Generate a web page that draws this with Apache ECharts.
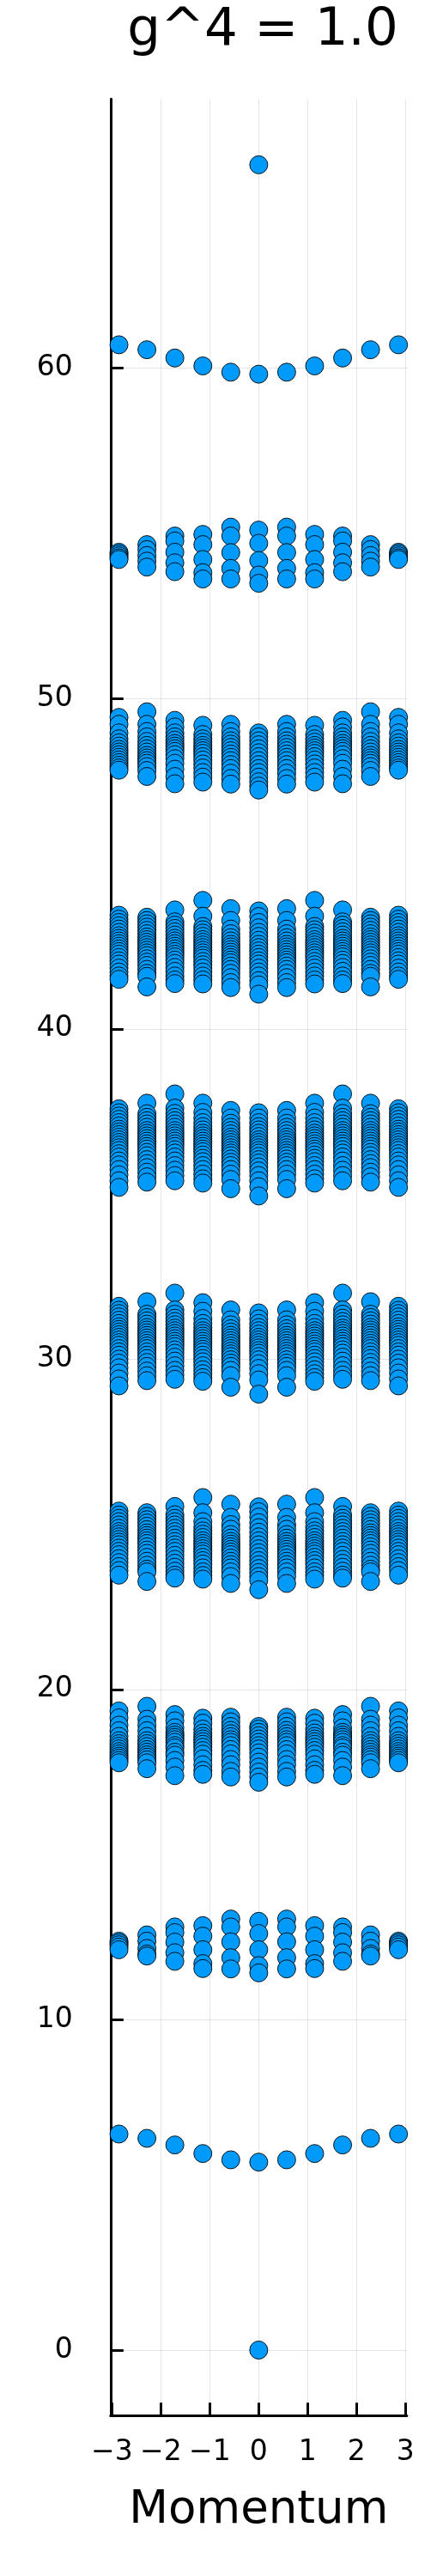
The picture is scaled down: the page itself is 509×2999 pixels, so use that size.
<!DOCTYPE html>
<html>
<head>
<meta charset="utf-8">
<script src="https://cdn.jsdelivr.net/npm/echarts@6/dist/echarts.min.js"></script>
<style>
  html, body { margin: 0; padding: 0; background: #fff; }
  #chart { width: 509px; height: 2999px; }
</style>
</head>
<body>
<div id="chart"></div>
<script>
// ---- data ----
const titleText = 'g^4 = 1.0';
const xName = 'Momentum';
const momenta = [-2.856, -2.285, -1.714, -1.142, -0.571, 0, 0.571, 1.142, 1.714, 2.285, 2.856];
const xTicks = [-3, -2, -1, 0, 1, 2, 3];
const xTickLabels = ['\u22123', '\u22122', '\u22121', '0', '1', '2', '3'];
const yTicks = [0, 10, 20, 30, 40, 50, 60];
const yTickLabels = ['0', '10', '20', '30', '40', '50', '60'];

// single levels at momentum 0
const groundLevel = 0;
const topLevel = 66.16;

// one level per momentum
const band6 = [6.54, 6.41, 6.21, 5.95, 5.76, 5.69, 5.76, 5.95, 6.21, 6.41, 6.54];
const band60 = [60.71, 60.56, 60.31, 60.07, 59.88, 59.82, 59.88, 60.07, 60.31, 60.56, 60.71];

// band near 12 (columns k0..k5, mirrored)
const b12c0 = [12.38, 12.33, 12.27, 12.20, 12.12];
const b12c1 = [12.57, 12.38, 12.16, 11.99, 11.93];
const b12c2 = [12.81, 12.64, 12.35, 12.03, 11.77];
const b12c3 = [12.85, 12.53, 12.12, 11.70, 11.55];
const b12c4 = [13.05, 12.81, 12.36, 11.88, 11.54];
const b12c5 = [12.98, 12.61, 12.12, 11.64, 11.42];
const band12 = [b12c0, b12c1, b12c2, b12c3, b12c4, b12c5, b12c4, b12c3, b12c2, b12c1, b12c0];

// band near 18
const b18c0 = [19.35, 19.14, 18.92, 18.75, 18.58, 18.45, 18.36, 18.28, 18.20, 18.12, 18.05, 17.98, 17.92, 17.85, 17.78];
const b18c1 = [19.49, 19.10, 18.92, 18.75, 18.58, 18.45, 18.36, 18.27, 18.18, 18.10, 18.02, 17.95, 17.87, 17.78, 17.60];
const b18c2 = [19.24, 19.05, 18.84, 18.70, 18.62, 18.55, 18.48, 18.40, 18.30, 18.23, 18.10, 18.01, 17.85, 17.65, 17.39];
const b18c3 = [19.13, 18.98, 18.80, 18.68, 18.58, 18.50, 18.42, 18.34, 18.25, 18.15, 18.04, 17.90, 17.72, 17.55, 17.43];
const b18c4 = [19.16, 19.02, 18.88, 18.76, 18.66, 18.57, 18.48, 18.40, 18.30, 18.18, 18.05, 17.88, 17.72, 17.52, 17.35];
const b18c5 = [18.88, 18.80, 18.70, 18.60, 18.50, 18.40, 18.30, 18.20, 18.08, 17.95, 17.80, 17.65, 17.50, 17.35, 17.19];
const band18 = [b18c0, b18c1, b18c2, b18c3, b18c4, b18c5, b18c4, b18c3, b18c2, b18c1, b18c0];

// band near 24
const b24c0 = [25.40, 25.28, 25.18, 25.08, 24.98, 24.88, 24.78, 24.70, 24.62, 24.54, 24.46, 24.38, 24.28, 24.18, 24.08, 23.96, 23.84, 23.72, 23.60, 23.46];
const b24c1 = [25.35, 25.24, 25.14, 25.04, 24.94, 24.84, 24.74, 24.66, 24.58, 24.50, 24.42, 24.32, 24.22, 24.12, 24.00, 23.88, 23.76, 23.64, 23.56, 23.27];
const b24c2 = [25.54, 25.29, 25.18, 25.08, 24.98, 24.88, 24.78, 24.68, 24.58, 24.48, 24.38, 24.28, 24.18, 24.06, 23.94, 23.82, 23.70, 23.58, 23.46, 23.37];
const b24c3 = [25.81, 25.35, 25.08, 24.92, 24.80, 24.70, 24.60, 24.50, 24.42, 24.34, 24.26, 24.18, 24.10, 24.00, 23.90, 23.80, 23.68, 23.56, 23.45, 23.34];
const b24c4 = [25.61, 25.21, 24.99, 24.85, 24.69, 24.58, 24.48, 24.40, 24.32, 24.24, 24.16, 24.08, 23.98, 23.88, 23.78, 23.68, 23.56, 23.42, 23.21];
const b24c5 = [25.53, 25.38, 25.22, 25.05, 24.90, 24.76, 24.62, 24.50, 24.38, 24.26, 24.14, 24.02, 23.90, 23.78, 23.66, 23.54, 23.42, 23.30, 23.02];
const band24 = [b24c0, b24c1, b24c2, b24c3, b24c4, b24c5, b24c4, b24c3, b24c2, b24c1, b24c0];

// band near 30
const b30c0 = [31.60, 31.48, 31.38, 31.28, 31.18, 31.08, 30.98, 30.90, 30.82, 30.74, 30.66, 30.58, 30.50, 30.42, 30.32, 30.22, 30.12, 30.00, 29.88, 29.74, 29.58, 29.40, 29.19];
const b30c1 = [31.74, 31.36, 31.26, 31.16, 31.06, 30.96, 30.88, 30.80, 30.72, 30.64, 30.56, 30.48, 30.40, 30.32, 30.22, 30.12, 30.02, 29.90, 29.78, 29.64, 29.50, 29.35];
const b30c2 = [32.00, 31.49, 31.36, 31.24, 31.14, 31.04, 30.94, 30.86, 30.78, 30.70, 30.62, 30.54, 30.46, 30.38, 30.28, 30.18, 30.06, 29.94, 29.80, 29.66, 29.52, 29.39];
const b30c3 = [31.71, 31.45, 31.23, 31.08, 30.96, 30.86, 30.78, 30.70, 30.62, 30.54, 30.46, 30.38, 30.30, 30.22, 30.12, 30.02, 29.92, 29.80, 29.68, 29.56, 29.44, 29.33];
const b30c4 = [31.49, 31.19, 31.04, 30.92, 30.82, 30.72, 30.64, 30.56, 30.48, 30.40, 30.32, 30.24, 30.16, 30.08, 29.98, 29.88, 29.78, 29.66, 29.50, 29.15];
const b30c5 = [31.40, 31.22, 31.08, 30.96, 30.86, 30.76, 30.66, 30.58, 30.50, 30.42, 30.34, 30.26, 30.18, 30.08, 29.98, 29.86, 29.72, 29.56, 29.37, 28.94];
const band30 = [b30c0, b30c1, b30c2, b30c3, b30c4, b30c5, b30c4, b30c3, b30c2, b30c1, b30c0];

// band near 36
const b36c0 = [37.58, 37.46, 37.36, 37.26, 37.16, 37.06, 36.96, 36.88, 36.80, 36.72, 36.64, 36.56, 36.48, 36.40, 36.32, 36.22, 36.12, 36.00, 35.88, 35.74, 35.58, 35.40, 35.20];
const b36c1 = [37.75, 37.43, 37.32, 37.22, 37.12, 37.02, 36.92, 36.84, 36.76, 36.68, 36.60, 36.52, 36.44, 36.36, 36.26, 36.16, 36.04, 35.92, 35.80, 35.66, 35.52, 35.36];
const b36c2 = [38.03, 37.60, 37.44, 37.32, 37.22, 37.12, 37.02, 36.92, 36.84, 36.76, 36.68, 36.60, 36.52, 36.44, 36.34, 36.24, 36.12, 36.00, 35.86, 35.72, 35.56, 35.40];
const b36c3 = [37.75, 37.47, 37.30, 37.16, 37.04, 36.94, 36.84, 36.76, 36.68, 36.60, 36.52, 36.44, 36.36, 36.28, 36.18, 36.08, 35.98, 35.86, 35.74, 35.60, 35.46, 35.33];
const b36c4 = [37.53, 37.30, 37.14, 37.02, 36.92, 36.82, 36.72, 36.64, 36.56, 36.48, 36.40, 36.32, 36.24, 36.16, 36.06, 35.96, 35.86, 35.74, 35.60, 35.44, 35.16];
const b36c5 = [37.46, 37.30, 37.16, 37.04, 36.94, 36.84, 36.74, 36.64, 36.56, 36.48, 36.40, 36.32, 36.24, 36.14, 36.04, 35.94, 35.82, 35.70, 35.56, 35.40, 35.22, 34.94];
const band36 = [b36c0, b36c1, b36c2, b36c3, b36c4, b36c5, b36c4, b36c3, b36c2, b36c1, b36c0];

// band near 42
const b42c0 = [43.44, 43.32, 43.22, 43.12, 43.02, 42.92, 42.82, 42.74, 42.66, 42.58, 42.50, 42.42, 42.34, 42.26, 42.16, 42.06, 41.96, 41.84, 41.72, 41.60, 41.50];
const b42c1 = [43.38, 43.28, 43.18, 43.08, 42.98, 42.88, 42.78, 42.70, 42.62, 42.54, 42.46, 42.38, 42.30, 42.22, 42.12, 42.02, 41.92, 41.80, 41.68, 41.59, 41.27];
const b42c2 = [43.60, 43.24, 43.14, 43.04, 42.94, 42.84, 42.74, 42.66, 42.58, 42.50, 42.42, 42.34, 42.26, 42.18, 42.08, 41.98, 41.86, 41.74, 41.60, 41.48, 41.37];
const b42c3 = [43.89, 43.41, 43.10, 43.00, 42.90, 42.80, 42.70, 42.62, 42.54, 42.46, 42.38, 42.30, 42.22, 42.14, 42.04, 41.94, 41.84, 41.72, 41.60, 41.48, 41.36];
const b42c4 = [43.64, 43.28, 43.02, 42.88, 42.76, 42.66, 42.56, 42.48, 42.40, 42.32, 42.24, 42.16, 42.08, 42.00, 41.90, 41.80, 41.68, 41.55, 41.40, 41.25];
const b42c5 = [43.57, 43.40, 43.22, 43.06, 42.92, 42.80, 42.68, 42.56, 42.46, 42.36, 42.26, 42.16, 42.06, 41.96, 41.84, 41.72, 41.60, 41.46, 41.33, 41.05];
const band42 = [b42c0, b42c1, b42c2, b42c3, b42c4, b42c5, b42c4, b42c3, b42c2, b42c1, b42c0];

// band near 48
const b48c0 = [49.43, 49.22, 48.96, 48.78, 48.66, 48.56, 48.46, 48.38, 48.30, 48.22, 48.14, 48.06, 47.98, 47.90, 47.83];
const b48c1 = [49.60, 49.22, 49.00, 48.84, 48.70, 48.58, 48.48, 48.38, 48.28, 48.20, 48.12, 48.04, 47.94, 47.82, 47.64];
const b48c2 = [49.34, 49.14, 48.96, 48.84, 48.74, 48.64, 48.56, 48.48, 48.40, 48.30, 48.18, 48.04, 47.86, 47.64, 47.42];
const b48c3 = [49.19, 48.91, 48.78, 48.68, 48.58, 48.50, 48.42, 48.34, 48.24, 48.14, 48.02, 47.90, 47.76, 47.62, 47.47];
const b48c4 = [49.22, 49.00, 48.84, 48.72, 48.62, 48.52, 48.42, 48.32, 48.22, 48.12, 48.00, 47.88, 47.74, 47.58, 47.41];
const b48c5 = [48.96, 48.84, 48.72, 48.60, 48.48, 48.36, 48.24, 48.12, 48.00, 47.88, 47.76, 47.62, 47.48, 47.35, 47.23];
const band48 = [b48c0, b48c1, b48c2, b48c3, b48c4, b48c5, b48c4, b48c3, b48c2, b48c1, b48c0];

// band near 54
const b54c0 = [54.43, 54.38, 54.32, 54.26, 54.21];
const b54c1 = [54.66, 54.51, 54.33, 54.16, 53.98];
const b54c2 = [54.92, 54.77, 54.43, 54.11, 53.84];
const b54c3 = [54.97, 54.66, 54.21, 53.81, 53.62];
const b54c4 = [55.19, 54.92, 54.42, 53.94, 53.62];
const b54c5 = [55.10, 54.70, 54.18, 53.74, 53.49];
const band54 = [b54c0, b54c1, b54c2, b54c3, b54c4, b54c5, b54c4, b54c3, b54c2, b54c1, b54c0];

// ---- build points ----
const points = [];
points.push([momenta[5], groundLevel]);
band6.forEach((v, i) => points.push([momenta[i], v]));
[band12, band18, band24, band30, band36, band42, band48, band54].forEach(band => {
  band.forEach((col, i) => col.forEach(v => points.push([momenta[i], v])));
});
band60.forEach((v, i) => points.push([momenta[i], v]));
points.push([momenta[5], topLevel]);

const FONT = 'DejaVu Sans';
const chart = echarts.init(document.getElementById('chart'), null, { renderer: 'canvas' });
chart.setOption({
  animation: false,
  backgroundColor: '#ffffff',
  title: {
    text: titleText,
    left: 301,
    top: 1,
    textAlign: 'center',
    textStyle: { fontFamily: FONT, fontSize: 61, fontWeight: 'normal', color: '#000' }
  },
  grid: { left: 128.8, right: 35.1, top: 115.3, bottom: 186.7, containLabel: false },
  xAxis: {
    type: 'value',
    min: -3.027,
    max: 3.027,
    name: xName,
    nameLocation: 'middle',
    nameGap: 84,
    nameTextStyle: { fontFamily: FONT, fontSize: 53, color: '#000' },
    axisLine: { show: true, onZero: false, lineStyle: { color: '#000', width: 3 } },
    axisTick: { show: true, inside: true, length: 15, customValues: xTicks, lineStyle: { color: '#000', width: 3 } },
    axisLabel: {
      show: true, margin: 27, customValues: xTicks,
      fontFamily: FONT, fontSize: 33, color: '#000',
      formatter: v => xTickLabels[xTicks.indexOf(v)]
    },
    splitLine: { show: true, lineStyle: { color: 'rgba(0,0,0,0.1)', width: 1 } }
  },
  yAxis: {
    type: 'value',
    min: -1.985,
    max: 68.15,
    axisLine: { show: true, onZero: false, lineStyle: { color: '#000', width: 3 } },
    axisTick: { show: true, inside: true, length: 15, customValues: yTicks, lineStyle: { color: '#000', width: 3 } },
    axisLabel: {
      show: true, margin: 44, customValues: yTicks,
      fontFamily: FONT, fontSize: 33, color: '#000',
      formatter: v => yTickLabels[yTicks.indexOf(v)]
    },
    splitLine: { show: true, lineStyle: { color: 'rgba(0,0,0,0.1)', width: 1 } }
  },
  series: [{
    type: 'scatter',
    data: points,
    symbol: 'circle',
    symbolSize: 21,
    clip: true,
    itemStyle: { color: '#009AFA', borderColor: '#000', borderWidth: 0.9, opacity: 1 },
    emphasis: { disabled: true }
  }]
});
</script>
</body>
</html>
